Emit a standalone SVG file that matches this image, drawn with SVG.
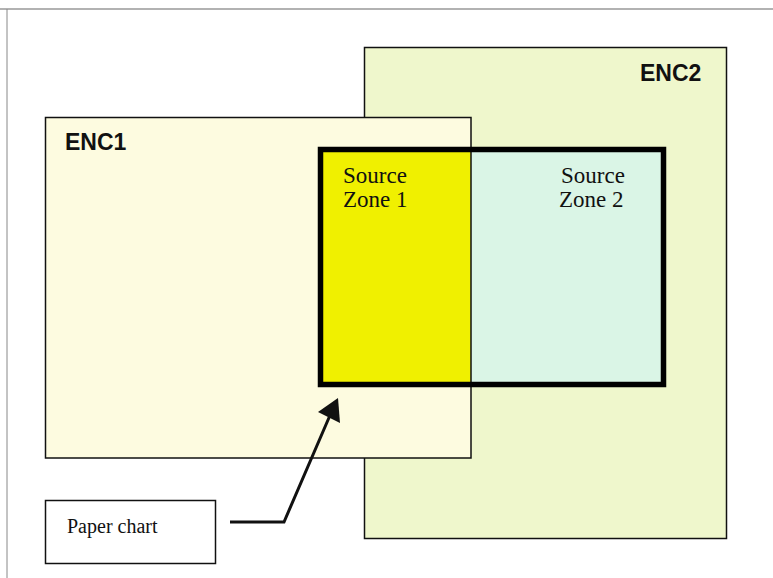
<svg xmlns="http://www.w3.org/2000/svg" width="773" height="578" viewBox="0 0 773 578">
<style>
.box{stroke:#111;stroke-width:1.5}
.lbl{font-family:"Liberation Sans",Arial,sans-serif;font-weight:bold;font-size:23px;fill:#111}
.src{font-family:"Liberation Serif","Times New Roman",serif;font-size:23px;fill:#111}
.pc{font-family:"Liberation Serif","Times New Roman",serif;font-size:20px;fill:#111}
</style>
<rect width="773" height="578" fill="#fff"/>
<g id="frame">
<line x1="0" y1="9" x2="773" y2="9" stroke="#666" stroke-width="1.2"/>
<line x1="7" y1="9" x2="7" y2="578" stroke="#888" stroke-width="1"/>
</g>
<g id="enc2">
<rect class="box" x="364.5" y="47.5" width="362" height="491" fill="#eff7cc"/>
<text class="lbl" x="640" y="81">ENC2</text>
</g>
<g id="enc1">
<rect class="box" x="45.5" y="117.5" width="425.5" height="340.5" fill="#fdfbe0"/>
<text class="lbl" x="65" y="150">ENC1</text>
</g>
<g id="source-zones">
<rect x="320" y="149" width="151" height="236" fill="#f0f000"/>
<rect x="471" y="149" width="193" height="236" fill="#daf5e6"/>
<line x1="471" y1="149" x2="471" y2="385" stroke="#111" stroke-width="1.5"/>
<rect x="320.5" y="149.5" width="343" height="235" fill="none" stroke="#000" stroke-width="5.5"/>
<text class="src" x="343" y="183">Source</text>
<text class="src" x="343" y="207">Zone 1</text>
<text class="src" x="561" y="183">Source</text>
<text class="src" x="559" y="207">Zone 2</text>
</g>
<g id="paper-chart">
<rect class="box" x="45.5" y="500.5" width="170" height="63" fill="#fff"/>
<text class="pc" x="67" y="533">Paper chart</text>
</g>
<g id="connectors">
<polyline points="230,522 284,522 331,413" fill="none" stroke="#111" stroke-width="3"/>
<path d="M338,398 L340,423 L318,412 z" fill="#111"/>
</g>
</svg>
